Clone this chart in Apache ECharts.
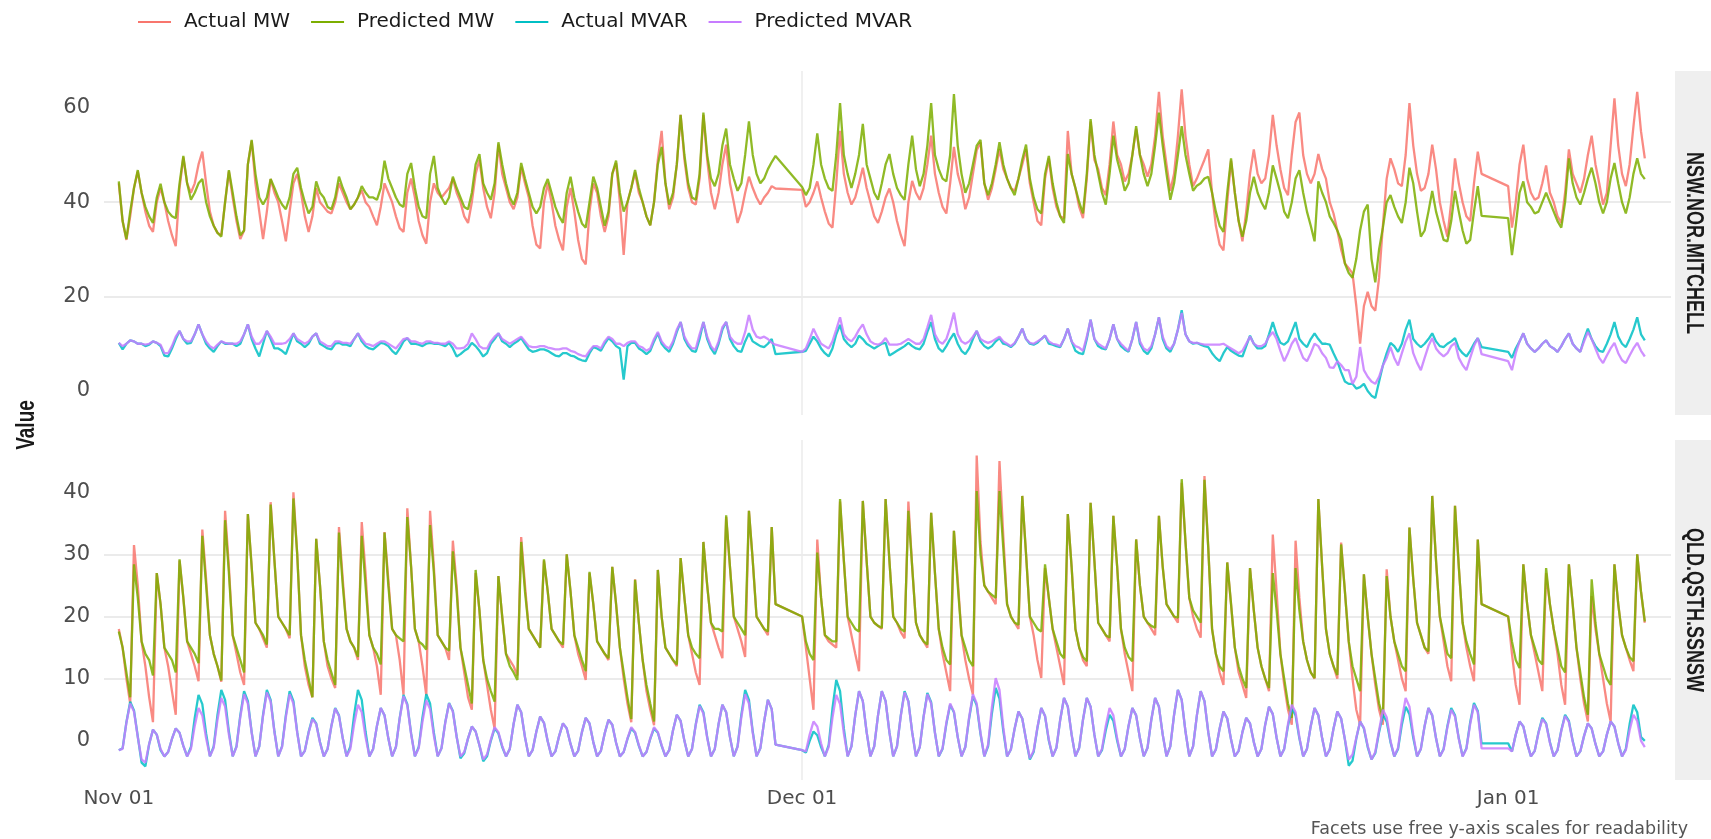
<!DOCTYPE html>
<html>
<head>
<meta charset="utf-8">
<script src="https://cdn.jsdelivr.net/npm/echarts@6/dist/echarts.min.js"></script>
<style>
html,body{margin:0;padding:0;background:#ffffff;}
#chart{width:1711px;height:839px;}
</style>
</head>
<body>
<div id="chart"></div>
<script>
// ---------------- data ----------------
const SERIES_NAMES = ['Actual MW', 'Predicted MW', 'Actual MVAR', 'Predicted MVAR'];
const SERIES_COLORS = ['#F8766D', '#7CAE00', '#00BFC4', '#C77CFF'];
const FACETS = ['NSW.NOR.MITCHELL', 'QLD.QSTH.SSNSW'];
const X_TICK_DATES = ['2023-11-01', '2023-12-01', '2024-01-01'];
const Y_TICKS_NSW = [0, 20, 40, 60];
const Y_TICKS_QLD = [0, 10, 20, 30, 40];
const Y_TITLE = 'Value';
const CAPTION = 'Facets use free y-axis scales for readability';
// sampled every 4 h; runs of days with data (missing days are bridged by the line)
const SEGMENTS = [['2023-11-01', 29], ['2023-12-01', 30], ['2024-01-01', 6]];
const LAST_TIME = '2024-01-07T00:00:00Z';
const STEP_HOURS = 4;

// NSW.NOR.MITCHELL
const nswActualMW = [
44,36,32,37,43,46.5, 42,38,35,33.7,40,43, 40,36,33,30.7,43,49.5, 44,42,44,48,50.7,44,
38,35,33.5,33,40,46.5, 41,36,32.2,34,48,53, 44,38,32.2,38,44.9,42, 40,36,31.7,38,44,46,
42,37,33.7,37,43,40, 39,38,37.6,40,44,42, 40,38.5,39.5,41,42.5,40, 39,37,35.1,39,44,42,
40,37,34.5,33.7,42,45, 41,36,33,31.2,40,44, 42,41,42,43,45,42, 40,37,35.6,40,46,49,
43,39,36.6,42,52.2,46, 43,40,38.5,41,47.5,44, 41,35,31,30.2,40,44, 40,35,32,29.8,39,43,
38,32,28,26.8,38,44, 42,37,33.7,37,46,48.3, 40,28.8,40,43,46.3,42, 40,37,35.1,40,49,55.1,
44,38.5,41,48,58.5,49, 43,40,39.5,45,58.5,49, 42,38.5,42,48,52.2,44, 40,35.6,38,42,45.4,43,
41,39.5,41,42,43.4,42.9,
42.6,39,40,42,44.4,41, 38,35.5,34.6,44,55.1,46, 42,39.5,41,44,47.3,43, 40,37,35.6,38,41,42.9,
40,36,33,30.7,40,44.5, 42,40.5,43,48,54.1,46, 42,39,37.6,44,51.7,46, 43,38.5,41,46,51,52.7,
44,40.5,43,47,51.2,47, 45,43,42.4,45,48,51.2, 44,40,36,35.1,45,49.3, 43,39,37,36.6,55.1,46,
43,39,36.6,45,57.1,49, 47,43,41.5,48,57.1,50, 48,44.4,46,50,55.6,50, 48,45.4,48,54,63.4,54,
48,42.4,46,54,63.9,54, 48,43.4,45,47,49,51.2, 42,35,31,29.8,40,48.8, 42,36,31.7,38,46,51.2,
46,44,45,50,58.5,52, 47,43,41.5,50,57,59, 50,46,44,46,50.2,47, 45,40,37.6,34,30,27,
26,24.9,18,10,18,21, 18,17,24,35,45,49.3, 47,44,43.4,50,61,52, 46,42.4,43,46,52.2,47,
40,36,32.7,40,49.3,44, 40,37,36,44,50.7,46,
43.4,34.6,40,48,52.2,45, 42,40.5,41,44,47.8,42, 40,37,35.6,42,51.2,46, 44,42,45,50,54.1,48,
44,39.5,42,52,62,52, 46,43.4,48,56,63.4,55,
49.3
];
const nswPredictedMW = [
44.4,36,32.2,38,43,46.8, 42,39,37,35.6,41,43.9, 40,38,37,36.6,44,49.8, 44,40.5,42,44,44.9,40,
37,35,33.5,32.7,40,46.8, 42,37,33,34,48,53.2, 46,41,39.5,41,44.9,43, 41,39.5,38.5,41,46,47.3,
43,40,37.6,39,44.4,42, 41,39,38.5,41,45.4,43, 41,38.5,39.5,41,43.4,42, 41,41,40.5,43,48.8,45,
43,41,39.5,39,46,48.3, 43,39,37,36.6,46,49.8, 43,41,39.5,41,45.4,43, 41,39,38.5,42,48,50.2,
44,42,40.5,44,52.7,48, 44,41,39.5,42,48.3,45, 42,39,37.6,39,43,44.9, 42,39,37,35.6,42,45.4,
41,38,35.5,34.6,40,45.4, 43,39,35,38,46,48.8, 42,38,40,43,46.8,43, 40,37,35.1,40,48,51.7,
44,39.5,42,48,58.5,50, 44,41,40.5,46,59,50, 45,43.4,46,52,55.6,48, 45,42.4,44,50,57.1,50,
46,44,45,47,48.5,49.8,
43.2,41.5,43,48,54.6,48, 45,43,42.4,50,61,50, 46,43,46,50,56.6,48, 45,42,40.5,44,48,50.2,
46,43,41.5,40.5,48,54.1, 47,43.4,46,52,61,50, 47,45,44.4,50,62.9,52, 46,42,44,48,52,53.2,
44,41.5,44,48,52.7,48, 45,43,41.5,45,49,52.2, 45,41,38.5,37.6,46,49.8, 44,40,37,35.6,50.2,46,
43,40,37.6,46,57.6,50, 46,42,39.5,46,54.1,49, 46,42.4,44,50,56.1,50, 46,43.4,46,52,59,52,
46,40.5,44,50,56.1,50, 46,42.4,43.5,44,45,45.4, 42,38,35,33.7,42,49.3, 42,36,32.7,36,42,45.4,
42,40,38.5,42,47.8,45, 42,38,36.6,40,45,46.8, 42,38,35,31.7,44.4,42, 40,37,35.6,34,32,27,
25,24,28,34,38,39.5, 28,23,30,34.6,40,41.5, 39,37,35.6,40,47.3,44, 38,32.7,34,38,42.4,38,
35,32,31.7,36,42.4,38, 34,31.2,32,38,43.4,37.1,
36.6,28.8,35,42,44.4,40, 39,37.6,38,40,42,40, 38,36,34.6,40,49.3,44, 41,39.5,42,45,47.3,44,
40,37.6,40,45,48.3,44, 40,37.6,41,46,49.3,46,
44.9
];
const nswActualMVAR = [
10.2,8.8,10,10.7,10.5,10, 10,9.5,9.8,10.5,10.2,9.5, 7.5,7.3,9,11,12.7,11, 10,10.2,12,14.1,12,10,
9,8.3,9.5,10.5,10,10, 10,9.5,10,12,14.1,11, 9,7.3,10,12.7,11,9, 9,8.5,7.8,10,12.2,10.5,
10,9.3,10,11.5,12.2,10, 9.5,9,8.8,10,10.2,9.8, 9.8,9.5,11,12.2,10.5,9.5, 9,8.8,9.5,10.2,10,9.5,
8.5,7.8,9,10.5,11.2,10, 10,9.8,9.5,10,10.2,10, 10,9.8,9.5,10.2,9,7.3, 7.8,8.5,9,10.2,9.5,8.5,
7.3,8,10,11,12.2,10.5, 10,9.3,10,10.5,11.2,10, 8.8,8.3,8.5,8.8,8.8,8.5, 8,7.5,7.3,8,8,7.5,
7.3,6.8,6.5,6.3,8,9.3, 9,8.5,10,11.2,10.5,9.5, 9,2.4,9.5,10.2,10.2,9, 8.5,7.8,8.5,10.5,12.2,10,
9,8.3,10,12.5,14.6,11, 9.5,8.5,8.3,11,14.6,11, 9,7.8,10,13,14.6,11, 9.5,8.5,8.3,10.5,12.2,10.5,
10,9.5,9.3,10,11,7.8,
8.3,8.5,10,11.5,10.5,9, 8,7.3,9,12,14,11, 10,9.3,10,11.7,11,10, 9.5,9,9.5,10,10.2,7.5,
8,8.5,9,9.5,10.2,9.5, 9,8.8,10,12.5,14.6,11, 9,8.3,9.5,11,12.2,10, 8.5,7.8,9,11,12.7,10.5,
9.5,9,9.5,10.5,11.2,10, 9.8,9.3,10,11.5,13.2,11, 10,9.8,10.2,11,11.7,10, 9.8,9.5,9.3,11,13.2,10.5,
8.5,8,7.8,11,15.1,11, 9.5,9,8.8,11,14.1,11, 9.5,8.8,8.3,11,14.6,10, 8.5,7.8,9,12,15.6,11,
9,8.3,10,13,17.1,12, 10.5,10,10.2,9.8,9.5,9.3, 8,7,6.3,8,9.3,8.5, 8,7.5,7.3,9.5,11.7,10,
9,9,9.5,12,14.6,12, 10.2,9.8,10.5,12.5,14.6,11, 10,9.3,11,12.2,11,10, 10,9.8,8,6.3,4,2,
1.5,1.5,0.5,0.8,1.5,0, -1,-1.5,2,5.4,8,10.2, 9.5,8.3,10,13,15.1,11, 10,9.3,10,11,12.2,10.5,
9.5,9.3,10,10.5,11.2,9, 8,7.3,8.5,10,11.2,9.3,
8.3,7,9,10.5,12.2,10, 9,8.3,9,10,10.7,9.5, 9,8.3,9.5,11,12.2,10, 9,8.3,11,13.2,11,9.5,
8.5,8.3,10,12,14.6,11.5, 10,9.3,11,13,15.6,12,
10.7
];
const nswPredictedMVAR = [
10.2,9.5,10,10.7,10.5,10, 10,9.8,10,10.5,10.2,9.8, 8,8,9.5,11.5,12.7,11, 10.5,10.5,12,14.1,12,10.5,
9.5,9,9.8,10.5,10.2,10, 10,10,10.5,12,14.1,11.5, 10,10,11,12.7,11.5,10, 10,10,10.2,11,12.2,11,
10.5,10,10.5,11.5,12.2,10.5, 10,9.5,9.5,10.5,10.5,10.2, 10.2,10,11,12.2,11,10, 9.8,9.5,10,10.5,10.5,10,
9.5,9,10,11,11.2,10.5, 10.5,10.2,10,10.5,10.5,10.2, 10.2,10,10,10.5,10,9, 9,9.2,10,12.2,11,9.5,
9,9,10.5,11.5,12.2,11, 10.5,10,10.5,11,11.5,10.5, 9.5,9.3,9.3,9.5,9.5,9.2, 9,8.8,8.8,9,9,8.5,
8.3,7.8,7.5,7.3,8.5,9.5, 9.5,9,10.5,11.5,11,10, 10,9.5,10.2,10.5,10.5,9.5, 9.2,8.5,9,11,12.5,10.5,
9.5,9,10.5,13,14.6,11.5, 10,9,9,12,14.6,11.5, 9.5,8.5,10.5,13.5,14.6,11.5, 10.5,10,10,12.5,16.1,13,
11.5,11.2,11.5,11,10.2,9.8,
8.3,9,11,13.2,11.5,10, 9.5,9,10.5,13,15.6,12, 11,10.5,11.5,13,14.1,12, 10.5,10,9.8,10.2,11.2,9.8,
9.8,9.8,10,10.5,11,10.5, 10,10,11,13.5,16.1,12, 10.5,10,11,13.5,16.6,12, 10.5,10,10.5,11.5,12.7,11,
10.5,10.2,10.5,11,11.5,10.5, 10,9.5,10.2,11.5,13.2,11, 10.2,10,10.5,11,11.7,10.5, 10,9.8,9.5,11,13.2,10.5,
9.5,9.2,8.5,11.5,15.1,11, 10,9.5,9,11,14.1,11, 10,9.2,8.5,11,14.6,10.5, 9,8.5,9.5,12,15.6,11.5,
9.5,8.8,10,13,16.5,12, 10.5,10.2,10.2,10,9.8,9.8, 9.8,9.8,9.8,10,9.5,9, 8.5,8,8.5,10,11.5,10,
9.5,9.5,10,11.5,12.5,11, 8.5,6.3,8,10,11.2,9, 7,6.3,8,10,9.5,8, 7,5,4.9,6.3,5.5,4.4,
4.4,1.5,3,9.3,4.4,3, 2,1.5,3,5.4,7,9.3, 7,5.4,8,10.5,12.2,8, 6,4.4,7,9.5,11.2,9,
8,7.3,8,9.5,10.2,7, 5.5,4.4,7,9.5,11.2,7.8,
6.3,4.4,8,10.5,12.2,10, 9,8.3,9,10,10.7,9.5, 9,8.3,9.5,11,12.2,10, 9,8.3,10.5,12.5,11,9,
7,5.9,7.5,9,10.2,8, 6.5,5.9,7.5,9,10.2,8.5,
7.3
];

// QLD.QSTH.SSNSW
const qldActualMW = [
18,15,10,6,31.5,25, 16,12,7,3,27,22, 15,12,8,4.2,29,23, 16,14,12,9.6,34,26,
17,14,12,9.5,37,28, 17,14,11,9,36.5,28, 19,18,16.5,15,38.4,29, 20,19,18,16.5,40,30,
17,12,9,7,32.5,25, 16,12,10,8.5,34.4,26, 18,16,15,13,35.2,27, 17,15,12,7.4,33.6,26,
18,17,13,7.4,37.4,28, 18,16,12,7.3,37,28, 17,16,15,13,32.2,25, 15,11,7,5,27,21,
13,9,5,2,26.5,20, 14,13,12,10.5,32.8,25, 18,17,16,15,29,24, 18,17,16,15,30,24,
17,14,12,9.8,27,22, 16,15,14,13,28,22, 15,10,6,3,26,19, 13,8,5,2.5,27.5,20,
15,14,13,12,29.4,23, 17,14,11,9,32,25, 19,17,15,13.3,36,28, 20,18,16,13.5,37,29,
20,19,18,17,34.4,22,
20,15,10,5,32.4,23, 17,16,15.5,15,38.5,29, 20,17,14,11.2,38.6,29, 20,19,18.5,18,38.9,29,
20,19,17.5,16.5,38.5,28, 19,17,16,15,36.7,27, 18,14,11,8,33.8,26, 17,13,10,7.4,45.9,32,
25,24,23,22,45,33, 22,20,19,18,39.4,30, 20,17,13,10.1,27.8,23, 18,15,12,9,36.5,28,
18,15,13,12,38.3,29, 19,18,17,16,36.2,28, 18,14,11,8,32.4,25, 20,19,18,17,36.2,28,
22,21,20,19,41.5,32, 23,20,18,16.6,42.6,31, 18,14,11,9,28.7,22, 15,11,9,6.9,27.8,21,
15,12,10,8,33.2,24, 14,9,5,2.6,32.2,23, 16,13,11,10,38.9,28, 18,14,12,10,31.9,24,
16,10,5,2.6,26.8,20, 14,9,5,2.6,27.6,20, 16,13,10,8,34.3,26, 19,17,15,14,39.4,29,
20,16,12,9.6,37.8,28, 19,15,12,9.6,32.4,22,
20,14,9,5.8,28.4,22, 17,14,11,8,27,22, 18,14,9,5.8,28.4,22, 15,10,6,3.1,23.3,18,
14,10,6,3.1,28.4,22, 17,15,13,11.2,30,24,
19
];
const qldPredictedMW = [
17.6,15,11,7,28.4,23, 16,14,13,10.5,27,22, 15,14,13,11,29.2,23, 16,15,14,12.5,33,25,
17,14,12,9.7,35.5,27, 17,15,13,11,36.5,28, 19,18,17,15.5,38,29, 20,19,18,17,39,30,
17,13,10,7,32.5,25, 16,13,11,9,33.5,25, 18,16,15,13.5,33,25, 17,15,14,12.3,33.5,25,
18,17,16.5,16,36,28, 18,16,15.5,14.7,34.7,27, 17,16,15,14.5,30.5,24, 15,12,9,6,27.5,21,
13,10,8,6.3,26.5,20, 14,12,11,9.8,32,24, 18,17,16,15,29.2,24, 18,17,16,15.5,30,24,
17,15,13,11.2,27.2,22, 16,15,14,13.3,28,22, 15,11,7,3.5,25.9,19, 13,9,6,3.1,27.5,20,
15,14,13,12.3,29.4,23, 17,15,14,13.3,32,25, 19,18,18,17.6,36.3,28, 20,19,18,17,37,29,
20,19,18,17.6,34.4,22,
20,16,14,13,30.3,23, 17,16.5,16,16,38.9,29, 20,19,18,17.6,38.6,29, 20,19,18.5,18.2,38.9,29,
20,19,18,17.6,37,28, 19,17,16,15.5,36.7,27, 18,15,13,12.3,33.8,25, 17,15,13,12,40.2,30,
25,24,23.5,23,40.2,31, 22,20,19,18.7,39.4,30, 20,19,18,17.6,28.4,23, 18,16,14,13.3,36.5,28,
18,15,13.5,12.8,38.3,29, 19,18,17,16.6,36.2,28, 18,15,13.5,12.8,32.4,25, 20,19,18.5,18.2,36.2,28,
22,21,20,19.8,42.1,32, 23,21,20,19,42,31, 18,14,12,11.2,28.7,22, 15,12,10,8.5,27.8,21,
15,12,10,8.5,27,21, 14,10,6,3.7,27.8,21, 16,13,11,10.1,38.9,28, 18,14,12,10.6,31.6,24,
16,12,10,8,26.8,20, 14,10,6,3.7,26.5,20, 16,14,12,11.2,34.3,26, 19,17,15,14.4,39.4,29,
20,17,14,13.3,37.8,28, 19,16,14,12.3,32.4,22,
20,16,13,11.7,28.4,22, 17,15,13,12.3,27.8,22, 18,15,12,11,28.4,22, 15,11,7,4.2,26,19,
14,12,10,9,28.4,22, 17,15,13.5,12.8,30,24,
19.2
];
const qldActualMVAR = [
-1.5,-1.2,3,6.3,4.9,0.7, -3.5,-4.1,-0.5,1.8,1,-1.5, -2.5,-1.8,0.3,2,1.3,-0.8, -2.5,-1,3.7,7.4,5.9,1.2,
-2.5,-0.9,4.2,8.2,6.6,1.5, -2.5,-0.9,4.1,8,6.4,1.4, -2.5,-0.9,4.2,8.2,6.6,1.5, -2.5,-0.9,4.1,8,6.4,1.4,
-2.5,-1.6,1.4,3.7,2.8,-0.2, -2.5,-1.3,2.4,5.3,4.1,0.4, -2.5,-0.9,4.2,8.2,6.6,1.5, -2.5,-1.3,2.4,5.3,4.1,0.4,
-2.5,-1,3.7,7.4,5.9,1.2, -2.5,-1,3.8,7.5,6,1.3, -2.5,-1.2,3,6.1,4.8,0.7, -2.8,-2,0.4,2.3,1.5,-0.7,
-3.3,-2.5,0,2,1.2,-1, -2.5,-1.3,2.7,5.8,4.6,0.6, -2.5,-1.5,1.5,3.9,2.9,-0.1, -2.5,-1.7,0.8,2.8,2,-0.5,
-2.5,-1.6,1.4,3.7,2.8,-0.2, -2.5,-1.6,1.2,3.4,2.6,-0.3, -2.5,-1.8,0.3,2,1.3,-0.8, -2.5,-1.8,0.3,2,1.3,-0.8,
-2.5,-1.5,1.7,4.2,3.2,0, -2.5,-1.3,2.7,5.8,4.6,0.6, -2.5,-1.3,2.7,5.8,4.6,0.6, -2.5,-0.9,4.2,8.2,6.6,1.5,
-2.5,-1.2,3.1,6.6,5.1,-0.6,
-1.5,-1.9,0,1.5,0.9,-1, -2.5,-0.7,5.2,9.8,8,2, -2.5,-0.9,4.1,8,6.4,1.4, -2.5,-0.9,4.1,8,6.4,1.4,
-2.5,-0.9,4.1,8,6.4,1.4, -2.5,-1,3.9,7.7,6.2,1.3, -2.5,-1.3,2.7,5.8,4.6,0.6, -2.5,-1,3.6,7.2,5.7,1.1,
-2.5,-0.9,4.4,8.5,6.8,1.6, -2.5,-1.4,2,4.7,3.6,0.2, -3,-1.8,2.1,5.3,4,0, -2.5,-1.1,3.4,6.9,5.5,1,
-2.5,-1.1,3.4,6.9,5.5,1, -2.5,-1.5,1.7,4.2,3.2,0, -2.5,-1.3,2.4,5.3,4.1,0.4, -2.5,-1.1,3.4,6.9,5.5,1,
-2.5,-0.9,4.2,8.2,6.6,1.5, -2.5,-0.9,4.1,8,6.4,1.4, -2.5,-1.4,2,4.7,3.6,0.2, -2.5,-1.6,1.4,3.7,2.8,-0.2,
-2.5,-1.3,2.6,5.5,4.3,0.5, -2.5,-1.3,2.4,5.3,4.1,0.4, -2.5,-1.3,2.4,5.3,4.1,0.4, -2.5,-1.4,2,4.7,3.6,0.2,
-4,-3.2,0.4,3.1,2,-1, -3,-2,1.4,4.2,3.1,-0.2, -2.5,-1.3,2.6,5.5,4.3,0.5, -2.5,-1.3,2.4,5.3,4.1,0.4,
-2.5,-1.3,2.4,5.3,4.1,0.4, -2.5,-1.2,3,6.1,4.8,-0.4,
-0.4,-1.7,1,3.1,2.3,-0.4, -2.5,-1.6,1.4,3.7,2.8,-0.2, -2.5,-1.5,1.7,4.2,3.2,0, -2.5,-1.7,0.8,2.8,2,-0.5,
-2.5,-1.7,1,3.1,2.3,-0.4, -2.5,-1.3,2.7,5.8,4.6,0.6,
0
];
const qldPredictedMVAR = [
-1.5,-1.3,2.9,6,4.7,0.6, -3,-3.5,-0.5,1.8,1,-1.3, -2.5,-1.8,0.3,2,1.3,-0.8, -2.5,-1.3,2.4,5.3,4.1,0.4,
-2.5,-1.1,3.4,6.9,5.5,1, -2.5,-1,3.8,7.5,6,1.3, -2.5,-0.9,4,7.8,6.3,1.4, -2.5,-1,3.8,7.5,6,1.3,
-2.5,-1.6,1.3,3.5,2.7,-0.3, -2.5,-1.3,2.4,5.2,4,0.4, -2.5,-1.3,2.7,5.8,4.6,0.6, -2.5,-1.3,2.4,5.3,4.1,0.4,
-2.5,-1,3.6,7.2,5.7,1.1, -2.5,-1.2,3.1,6.5,5.1,0.8, -2.5,-1.2,2.9,6,4.7,0.6, -2.5,-1.8,0.4,2.3,1.5,-0.7,
-3,-2.2,0.2,2.2,1.4,-0.8, -2.5,-1.3,2.7,5.8,4.6,0.6, -2.5,-1.5,1.5,3.9,2.9,-0.1, -2.5,-1.7,0.8,2.8,2,-0.5,
-2.5,-1.6,1.4,3.7,2.8,-0.2, -2.5,-1.6,1.2,3.4,2.6,-0.3, -2.5,-1.8,0.4,2.2,1.4,-0.7, -2.5,-1.8,0.4,2.2,1.4,-0.7,
-2.5,-1.5,1.7,4.2,3.2,0, -2.5,-1.3,2.6,5.6,4.4,0.5, -2.5,-1.3,2.7,5.8,4.6,0.6, -2.5,-1,3.8,7.5,6,1.3,
-2.5,-1.2,3.1,6.6,5.1,-0.6,
-1.5,-1.7,1,3.1,2.3,-0.4, -2.5,-1,3.7,7.4,5.9,1.2, -2.5,-0.9,4.1,8,6.4,1.4, -2.5,-0.9,4.1,8,6.4,1.4,
-2.5,-0.9,4,7.8,6.3,1.4, -2.5,-1,3.8,7.5,6,1.3, -2.5,-1.2,2.9,6,4.7,0.6, -2.5,-1,3.8,7.5,6,1.3,
-2.5,-0.6,5.4,10.1,8.2,2.2, -2.5,-1.4,2,4.7,3.6,0.2, -2.8,-1.6,2.2,5.3,4,0.2, -2.5,-1.1,3.4,6.9,5.5,1,
-2.5,-1.1,3.4,6.9,5.5,1, -2.5,-1.3,2.4,5.3,4.1,0.4, -2.5,-1.3,2.4,5.3,4.1,0.4, -2.5,-1.1,3.4,6.9,5.5,1,
-2.5,-0.9,4.2,8.2,6.6,1.5, -2.5,-0.9,4.1,8,6.4,1.4, -2.5,-1.4,2,4.7,3.6,0.2, -2.5,-1.6,1.4,3.7,2.8,-0.2,
-2.5,-1.3,2.6,5.5,4.3,0.5, -2.5,-1.3,2.7,5.8,4.6,0.6, -2.5,-1.3,2.4,5.3,4.1,0.4, -2.5,-1.4,2,4.7,3.6,0.2,
-3,-2.2,0.5,3.1,2.1,-0.8, -3,-1.8,1.7,5,3.8,0, -2.5,-1.1,3.4,6.9,5.5,1, -2.5,-1.3,2.4,5.3,4.1,0.4,
-2.5,-1.4,2.2,5,3.9,0.3, -2.5,-1.3,2.7,5.8,4.6,-1.2,
-1.2,-1.7,1,3.1,2.3,-0.4, -2.5,-1.6,1.3,3.5,2.7,-0.3, -2.5,-1.5,1.6,4,3,-0.1, -2.5,-1.7,0.8,2.8,2,-0.5,
-2.5,-1.7,1,3.1,2.3,-0.4, -2.5,-1.5,1.7,4.2,3.2,0,
-1
];

const FACET_DATA = [
  [nswActualMW, nswPredictedMW, nswActualMVAR, nswPredictedMVAR],
  [qldActualMW, qldPredictedMW, qldActualMVAR, qldPredictedMVAR]
];

// ---------------- build ----------------
const HOUR = 3600 * 1000, DAY = 24 * HOUR;
const times = [];
SEGMENTS.forEach(function (seg) {
  const t0 = Date.parse(seg[0] + 'T00:00:00Z');
  const n = seg[1] * 24 / STEP_HOURS;
  for (let i = 0; i < n; i++) times.push(t0 + i * STEP_HOURS * HOUR);
});
times.push(Date.parse(LAST_TIME));

FACET_DATA.forEach(function (arrs, f) {
  arrs.forEach(function (a, k) {
    if (a.length !== times.length) throw new Error('length mismatch facet ' + f + ' series ' + k + ': ' + a.length + ' vs ' + times.length);
  });
});

const xTicks = X_TICK_DATES.map(function (d) { return Date.parse(d + 'T00:00:00Z'); });
const X_MIN = xTicks[0] - 0.65 * DAY;
const X_MAX = xTicks[0] + 68.15 * DAY;
const MONTHS = ['Jan','Feb','Mar','Apr','May','Jun','Jul','Aug','Sep','Oct','Nov','Dec'];
function fmtDate(v) {
  const d = new Date(v);
  const dd = d.getUTCDate();
  return MONTHS[d.getUTCMonth()] + ' ' + (dd < 10 ? '0' + dd : dd);
}

const FONT = 'DejaVu Sans';
const GRID_COLOR = '#ebebeb';
const grids = [
  { left: 104, right: 40, top: 71, height: 344 },
  { left: 104, right: 40, top: 440, height: 340 }
];
const yRanges = [[-5.1, 67.8], [-6.3, 48.4]];
const yTicks = [Y_TICKS_NSW, Y_TICKS_QLD];

const xAxes = grids.map(function (g, i) {
  return {
    type: 'value', gridIndex: i, min: X_MIN, max: X_MAX, scale: true,
    axisLine: { show: false },
    axisTick: { show: false, customValues: xTicks },
    axisLabel: {
      show: i === 1, customValues: xTicks, formatter: fmtDate,
      color: '#4d4d4d', fontSize: 20, fontFamily: FONT, margin: 9
    },
    splitLine: { show: true, customValues: xTicks, showMinLine: false, showMaxLine: false,
      lineStyle: { color: GRID_COLOR, width: 1.5 } }
  };
});
const yAxes = grids.map(function (g, i) {
  return {
    type: 'value', gridIndex: i, min: yRanges[i][0], max: yRanges[i][1],
    axisLine: { show: false },
    axisTick: { show: false, customValues: yTicks[i] },
    axisLabel: { customValues: yTicks[i], color: '#4d4d4d', fontSize: 21, fontFamily: FONT, margin: 14 },
    splitLine: { show: true, customValues: yTicks[i], showMinLine: false, showMaxLine: false,
      lineStyle: { color: GRID_COLOR, width: 2 } }
  };
});

const series = [];
FACET_DATA.forEach(function (arrs, f) {
  arrs.forEach(function (arr, k) {
    series.push({
      name: SERIES_NAMES[k], type: 'line', xAxisIndex: f, yAxisIndex: f,
      data: times.map(function (t, i) { return [t, arr[i]]; }),
      showSymbol: false, symbol: 'none', smooth: false,
      lineStyle: { color: SERIES_COLORS[k], width: 2.3, opacity: 0.85 },
      itemStyle: { color: SERIES_COLORS[k] },
      emphasis: { disabled: true }, silent: true, z: 2 + k
    });
  });
});

const graphics = [
  { type: 'text', x: 27, y: 425, rotation: Math.PI / 2, scaleY: 1.35,
    style: { text: Y_TITLE, fill: '#1a1a1a', font: 'bold 19px "Liberation Sans"', align: 'center', verticalAlign: 'middle' } },
  { type: 'text', x: 1688, y: 829,
    style: { text: CAPTION, fill: '#555555', font: '17.5px "DejaVu Sans"', align: 'right', verticalAlign: 'middle' } }
];
grids.forEach(function (g, i) {
  graphics.push({ type: 'rect', shape: { x: 1675, y: g.top, width: 36, height: g.height }, style: { fill: '#efefef' } });
  graphics.push({ type: 'text', x: 1693, y: g.top + g.height / 2, rotation: -Math.PI / 2, scaleY: 1.3,
    style: { text: FACETS[i], fill: '#1a1a1a', font: 'bold 18px "Liberation Sans"', align: 'center', verticalAlign: 'middle' } });
});

const chart = echarts.init(document.getElementById('chart'), null, { renderer: 'canvas' });
chart.setOption({
  animation: false,
  backgroundColor: '#ffffff',
  textStyle: { fontFamily: FONT },
  legend: {
    data: SERIES_NAMES, left: 138, top: 12, padding: 0, icon: 'rect',
    itemWidth: 33, itemHeight: 2, itemGap: 21,
    textStyle: { fontFamily: FONT, fontSize: 20, color: '#1a1a1a', padding: [0, 0, 0, 8] }
  },
  grid: grids.map(function (g) { return Object.assign({ containLabel: false, outerBoundsMode: 'none' }, g); }),
  xAxis: xAxes,
  yAxis: yAxes,
  series: series,
  graphic: graphics
});
</script>
</body>
</html>
